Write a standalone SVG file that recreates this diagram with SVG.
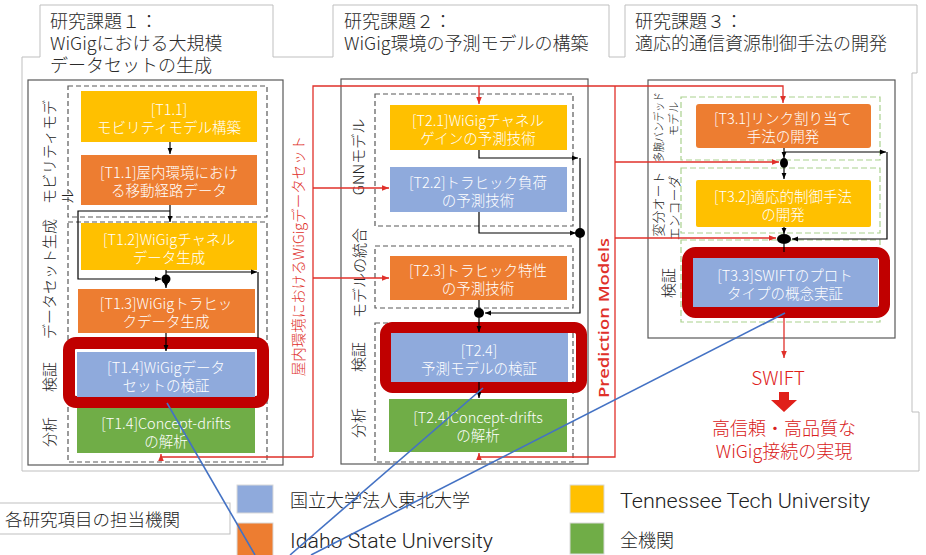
<svg xmlns="http://www.w3.org/2000/svg" width="926" height="555" viewBox="0 0 926 555">
<defs>
<style>
.jp{font-family:"Noto Sans CJK JP","Noto Sans",sans-serif;font-weight:300}
.bt{font-family:"Noto Sans CJK JP","Noto Sans",sans-serif;font-weight:300;font-size:14.5px;fill:#fff;text-anchor:middle;dominant-baseline:central}
.ttl{font-family:"Noto Sans CJK JP","Noto Sans",sans-serif;font-weight:300;font-size:18px;fill:#2a2a2a}
.lbl{font-family:"Noto Sans CJK JP","Noto Sans",sans-serif;font-weight:300;font-size:15px;fill:#222;dominant-baseline:central}
.en{font-family:Roboto,"Liberation Sans",sans-serif;font-weight:300;font-size:20px;fill:#222}
.sol{fill:none;stroke:#595959;stroke-width:1.2}
.dsh{fill:none;stroke:#595959;stroke-width:1.2;stroke-dasharray:5,3}
.gdsh{fill:none;stroke:#A9D18E;stroke-width:1.2;stroke-dasharray:6,3}
.yel{fill:#FFC000}.org{fill:#ED7D31}.blu{fill:#8FAADC}.grn{fill:#70AD47}
.rb{fill:none;stroke:#C00000}
.bk{fill:none;stroke:#000;stroke-width:1.2}
.rd{fill:none;stroke:#E0302A;stroke-width:1.3}
.bl{fill:none;stroke:#4472C4;stroke-width:1.6}
.rtxt{fill:#E0302A}
</style>
<marker id="ab" viewBox="0 0 10 10" refX="10" refY="5" markerWidth="6" markerHeight="6" markerUnits="userSpaceOnUse" orient="auto"><path d="M0,1 L10,5 L0,9 z" fill="#000"/></marker>
<marker id="ar" viewBox="0 0 10 10" refX="10" refY="5" markerWidth="7" markerHeight="7" markerUnits="userSpaceOnUse" orient="auto"><path d="M0,1 L10,5 L0,9 z" fill="#E0302A"/></marker>
</defs>
<rect width="926" height="555" fill="#fff"/>

<!-- outer frame and title tabs -->
<path d="M22,471 V57 H40 V5 H273 V57 H333 V5 H609 V57 H625 V5 H917 V73 H912 V412 H919 V471 Z" fill="none" stroke="#BFBFBF" stroke-width="1"/>
<g id="title1" class="ttl"><text x="50" y="28">研究課題１：</text><text x="50" y="50">WiGigにおける大規模</text><text x="50" y="72">データセットの生成</text></g>
<g id="title2" class="ttl"><text x="344" y="28">研究課題２：</text><text x="344" y="50">WiGig環境の予測モデルの構築</text></g>
<g id="title3" class="ttl"><text x="635" y="28">研究課題３：</text><text x="635" y="50">適応的通信資源制御手法の開発</text></g>

<!-- column frames -->
<rect x="28" y="80" width="255" height="385" class="sol"/>
<rect x="341" y="79" width="247" height="385" class="sol"/>
<rect x="648" y="80" width="247" height="258" class="sol"/>
<rect x="68" y="86" width="199" height="131" class="dsh"/>
<rect x="68" y="222" width="199" height="240" class="dsh"/>
<rect x="375" y="94" width="198" height="132" class="dsh"/>
<rect x="375" y="246" width="198" height="62" class="dsh"/>
<rect x="375" y="323" width="198" height="139" class="dsh"/>
<rect x="681" y="97" width="199" height="63" class="gdsh"/>
<rect x="681" y="168" width="199" height="65" class="gdsh"/>
<rect x="681" y="240" width="199" height="82" class="gdsh"/>

<!-- section labels -->
<g class="lbl">
<text transform="translate(48,204) rotate(-90)">モビリティモデ</text>
<text transform="translate(66,204) rotate(-90)">ル</text>
<text transform="translate(48,279) rotate(-90)" text-anchor="middle">データセット生成</text>
<text transform="translate(48,377) rotate(-90)" text-anchor="middle">検証</text>
<text transform="translate(48,432) rotate(-90)" text-anchor="middle">分析</text>
<text transform="translate(357,157) rotate(-90)" text-anchor="middle">GNNモデル</text>
<text transform="translate(358,273) rotate(-90)" text-anchor="middle">モデルの統合</text>
<text transform="translate(357,357) rotate(-90)" text-anchor="middle">検証</text>
<text transform="translate(357,423) rotate(-90)" text-anchor="middle">分析</text>
<text transform="translate(658,127) rotate(-90)" text-anchor="middle" font-size="11.5" textLength="70" lengthAdjust="spacingAndGlyphs">多腕バンデッド</text>
<text transform="translate(673,119) rotate(-90)" text-anchor="middle" font-size="11.5">モデル</text>
<text transform="translate(657,204) rotate(-90)" text-anchor="middle" font-size="13">変分オート</text>
<text transform="translate(673,208) rotate(-90)" text-anchor="middle" font-size="13">エンコーダ</text>
<text transform="translate(667,283) rotate(-90)" text-anchor="middle">検証</text>
</g>

<!-- red verification borders -->
<rect x="69" y="343" width="194" height="59" rx="7" class="rb" stroke-width="12"/>
<rect x="385.5" y="327.5" width="196" height="60" rx="7" class="rb" stroke-width="11"/>
<rect x="687.5" y="252.5" width="197" height="60" rx="8" class="rb" stroke-width="11"/>

<!-- nodes column 1 -->
<g id="t11a"><rect x="81" y="91" width="176" height="51" class="yel"/><text class="bt" x="169" y="108">[T1.1]</text><text class="bt" x="169" y="126">モビリティモデル構築</text></g>
<g id="t11b"><rect x="81" y="155" width="176" height="50" class="org"/><text class="bt" x="169" y="171">[T1.1]屋内環境におけ</text><text class="bt" x="169" y="189">る移動経路データ</text></g>
<g id="t12"><rect x="81" y="223" width="176" height="47" class="yel"/><text class="bt" x="169" y="238">[T1.2]WiGigチャネル</text><text class="bt" x="169" y="256">データ生成</text></g>
<g id="t13"><rect x="78" y="289" width="177" height="44" class="org"/><text class="bt" x="166" y="302">[T1.3]WiGigトラヒッ</text><text class="bt" x="166" y="320">クデータ生成</text></g>
<g id="t14"><rect x="77" y="352" width="178" height="45" class="blu"/><text class="bt" x="166" y="366">[T1.4]WiGigデータ</text><text class="bt" x="166" y="384">セットの検証</text></g>
<g id="t14g"><rect x="77" y="408" width="178" height="45" class="grn"/><text class="bt" x="166" y="422">[T1.4]Concept-drifts</text><text class="bt" x="166" y="440">の解析</text></g>

<!-- nodes column 2 -->
<g id="t21"><rect x="390" y="105" width="177" height="45" class="yel"/><text class="bt" x="478" y="119">[T2.1]WiGigチャネル</text><text class="bt" x="478" y="137">ゲインの予測技術</text></g>
<g id="t22"><rect x="390" y="167" width="177" height="45" class="blu"/><text class="bt" x="478" y="181">[T2.2]トラヒック負荷</text><text class="bt" x="478" y="199">の予測技術</text></g>
<g id="t23"><rect x="390" y="256" width="177" height="44" class="org"/><text class="bt" x="478" y="269">[T2.3]トラヒック特性</text><text class="bt" x="478" y="287">の予測技術</text></g>
<g id="t24"><rect x="391" y="333" width="177" height="49" class="blu"/><text class="bt" x="479" y="349">[T2.4]</text><text class="bt" x="479" y="367">予測モデルの検証</text></g>
<g id="t24g"><rect x="389" y="399" width="178" height="53" class="grn"/><text class="bt" x="478" y="416">[T2.4]Concept-drifts</text><text class="bt" x="478" y="434">の解析</text></g>

<!-- nodes column 3 -->
<g id="t31"><rect x="696" y="104" width="175" height="44" rx="3" class="org"/><text class="bt" x="783" y="117">[T3.1]リンク割り当て</text><text class="bt" x="783" y="135">手法の開発</text></g>
<g id="t32"><rect x="696" y="180" width="175" height="47" rx="2" class="yel"/><text class="bt" x="783" y="195">[T3.2]適応的制御手法</text><text class="bt" x="783" y="213">の開発</text></g>
<g id="t33"><rect x="693" y="258" width="185" height="49" class="blu"/><text class="bt" x="785" y="274">[T3.3]SWIFTのプロト</text><text class="bt" x="785" y="292">タイプの概念実証</text></g>

<!-- result -->
<g id="swift">
<text x="778" y="385" text-anchor="middle" class="jp" font-size="19" fill="#E0201A">SWIFT</text>
<polygon points="779,392 789,392 789,400 797,400 784,412 771,400 779,400" fill="#E0201A"/>
<text x="784" y="435" text-anchor="middle" class="jp" font-size="18" fill="#D92020">高信頼・高品質な</text>
<text x="784" y="458" text-anchor="middle" class="jp" font-size="18" fill="#D92020">WiGig接続の実現</text>
</g>

<!-- connectors -->
<g id="connectors">
<g class="bk">
<path d="M170,142 V154" marker-end="url(#ab)"/>
<path d="M170,205 V222" marker-end="url(#ab)"/>
<path d="M170,211 H78 V279 H161" marker-end="url(#ab)"/>
<path d="M166,270 V279"/>
<path d="M166,272 H257" marker-end="url(#ab)"/>
<path d="M258,272 V338"/>
<path d="M166,283 V288" marker-end="url(#ab)"/>
<path d="M166,333 V351" marker-end="url(#ab)"/>
<path d="M479,150 V158 H578" marker-end="url(#ab)"/>
<path d="M580,158 V313 H485" marker-end="url(#ab)"/>
<path d="M479,212 V233 H576" marker-end="url(#ab)"/>
<path d="M479,300 V308"/>
<path d="M479,318 V332" marker-end="url(#ab)"/>
<path d="M479,382 V398" marker-end="url(#ab)"/>
<path d="M784,148 V158" marker-end="url(#ab)"/>
<path d="M784,152 H886" marker-end="url(#ab)"/>
<path d="M887,152 V239 H792" marker-end="url(#ab)"/>
<path d="M784,168 V179" marker-end="url(#ab)"/>
<path d="M784,227 V234" marker-end="url(#ab)"/>
<path d="M784,244 V252"/>
</g>
<circle cx="166" cy="279" r="4.5" fill="#000"/>
<circle cx="580" cy="233" r="5" fill="#000"/>
<circle cx="479" cy="313" r="5" fill="#000"/>
<ellipse cx="784" cy="163" rx="4" ry="5" fill="#000"/>
<ellipse cx="784" cy="239" rx="7" ry="5" fill="#000"/>
<g class="rd">
<path d="M313,457 H161 V454" marker-end="url(#ar)"/>
<path d="M313,457 V86 H783 V103" marker-end="url(#ar)"/>
<path d="M313,188 H389" marker-end="url(#ar)"/>
<path d="M313,278 H389" marker-end="url(#ar)"/>
<path d="M479,86 V104" marker-end="url(#ar)"/>
<path d="M615,86 V457 H479 V453" marker-end="url(#ar)"/>
<path d="M615,162 H779" marker-end="url(#ar)"/>
<path d="M615,238 H776" marker-end="url(#ar)"/>
<path d="M784,318 V358" marker-end="url(#ar)"/>
</g>
<text transform="translate(297,256) rotate(-90)" text-anchor="middle" dominant-baseline="central" class="jp rtxt" font-size="14.5">屋内環境におけるWiGigデータセット</text>
<text transform="translate(603,318) rotate(-90)" text-anchor="middle" dominant-baseline="central" font-family="Open Sans, sans-serif" font-weight="600" font-size="15" class="rtxt" textLength="160" lengthAdjust="spacingAndGlyphs">Prediction Models</text>
</g>

<!-- legend -->
<g id="legend">
<rect x="-1" y="503" width="231" height="31" fill="#fff" stroke="#BFBFBF"/>
<text x="5" y="526" class="jp" font-size="17.5" fill="#222">各研究項目の担当機関</text>
<rect x="237" y="485" width="36" height="28" class="blu" stroke="#D9D9D9"/>
<text x="290" y="507" class="jp" font-size="18" fill="#222">国立大学法人東北大学</text>
<rect x="237" y="523" width="36" height="33" class="org" stroke="#D9D9D9"/>
<text x="290" y="548" class="en" textLength="203" lengthAdjust="spacingAndGlyphs">Idaho State University</text>
<rect x="570" y="485" width="34" height="28" class="yel" stroke="#D9D9D9"/>
<text x="620" y="508" class="en" textLength="250" lengthAdjust="spacingAndGlyphs">Tennessee Tech University</text>
<rect x="570" y="523" width="34" height="31" class="grn" stroke="#D9D9D9"/>
<text x="620" y="547" class="jp" font-size="18" fill="#222">全機関</text>
</g>

<!-- blue annotation lines -->
<g id="annotations" class="bl">
<path d="M167,403 L255,555"/>
<path d="M483,388 L290,555"/>
<path d="M785,313 L311,555"/>
</g>
</svg>
